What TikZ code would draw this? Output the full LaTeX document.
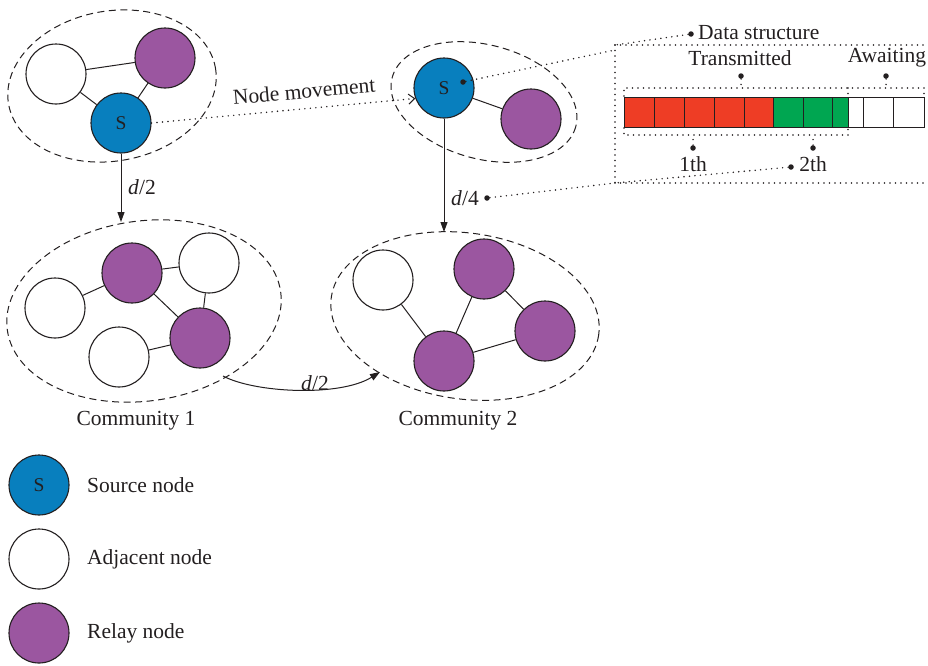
\documentclass[tikz,border=0pt]{standalone}
\usepackage{fontspec}
\setmainfont{Liberation Serif}
\usetikzlibrary{arrows.meta}
\definecolor{srcblue}{RGB}{8,127,190}
\definecolor{relay}{RGB}{155,86,160}
\definecolor{cellred}{RGB}{238,61,37}
\definecolor{cellgreen}{RGB}{0,166,81}
\definecolor{ink}{RGB}{35,31,32}

\begin{document}
\begin{tikzpicture}[x=1pt,y=-1pt,
  font=\fontsize{21.5}{25}\selectfont, text=ink,
  peer/.style={circle, draw=ink, line width=1.1pt, minimum size=60pt, inner sep=0pt},
  src/.style={peer, fill=srcblue, font=\fontsize{19.5}{22}\selectfont},
  adj/.style={peer, fill=white},
  rly/.style={peer, fill=relay},
  link/.style={draw=ink, line width=1pt},
  group/.style={draw=ink, line width=1pt, dash pattern=on 7pt off 4.5pt},
  dots/.style={draw=ink, line width=1.6pt, line cap=round, dash pattern=on 0pt off 5.5pt},
  flow/.style={draw=ink, line width=1pt, -{Triangle[length=10pt,width=7pt]}},
  pin/.style={circle, fill=ink, inner sep=0pt, minimum size=5.5pt},
  lbl/.style={inner sep=1pt}
]
\useasboundingbox (0,0) rectangle (928,665);

% ---- community outlines
\draw[group] (112,86) ellipse [x radius=105, y radius=75, rotate=10];
\draw[group] (484,102) ellipse [x radius=95, y radius=57, rotate=-15];
\draw[group] (144,311) ellipse [x radius=138, y radius=90, rotate=8];
\draw[group] (465,316) ellipse [x radius=135, y radius=83, rotate=-8];

% ---- nodes before the move
\node[adj] (a1) at (56,74) {};
\node[rly] (r1) at (165,58) {};
\node[src] (s1) at (121,123) {S};
\draw[link] (a1) -- (r1);
\draw[link] (a1) -- (s1);
\draw[link] (r1) -- (s1);

% ---- nodes after the move
\node[src] (s2) at (444,88) {S};
\node[rly] (r2) at (531,119) {};
\draw[link] (s2) -- (r2);

% ---- community 1
\node[rly] (r3) at (132,273) {};
\node[adj] (a3) at (209,263) {};
\node[adj] (a4) at (55,308) {};
\node[rly] (r4) at (200,338) {};
\node[adj] (a5) at (119,357) {};
\draw[link] (a4) -- (r3);
\draw[link] (r3) -- (a3);
\draw[link] (r3) -- (r4);
\draw[link] (a3) -- (r4);
\draw[link] (a5) -- (r4);
\node[lbl] (t1) at (136,421) {Community 1};

% ---- community 2
\node[adj] (a6) at (383,280) {};
\node[rly] (r5) at (484,269) {};
\node[rly] (r6) at (545,331) {};
\node[rly] (r7) at (444,361) {};
\draw[link] (a6) -- (r7);
\draw[link] (r7) -- (r5);
\draw[link] (r5) -- (r6);
\draw[link] (r7) -- (r6);
\node[lbl] (t2) at (458,421) {Community 2};

% ---- movement and hops
\coordinate (c1top) at (121,222);
\coordinate (c2top) at (444,232);
\coordinate (c1out) at (223,376);
\coordinate (c2in) at (380,372);
\draw[flow] (s1) -- (c1top);
\node[lbl] (h1) at (142,187) {\textit{d}/2};
\draw[flow] (s2) -- (c2top);
\node[lbl] (h2) at (465,198) {\textit{d}/4};
\draw[flow] (c1out) .. controls (255,393) and (340,397) .. (c2in);
\node[lbl] (h3) at (315,383) {\textit{d}/2};

\draw[dots, -{Straight Barb[length=6pt,width=10pt,line width=1pt]}] (s1.east) -- (s2.200);
\node[lbl, rotate=5] (mv) at (304,91) {Node movement};

% ---- data structure callout
\coordinate (btl) at (615,45);
\coordinate (bbl) at (615,183);
\coordinate (btr) at (928,45);
\coordinate (bbr) at (928,183);
\coordinate (bin) at (615,50);
\draw[dots] (btl) -- (btr);
\draw[dots] (btl) -- (bbl);
\draw[dots] (bbl) -- (bbr);

\node[pin] (ps) at (463,82) {};
\draw[dots] (ps) -- (bin);
\node[pin] (pd) at (487,198) {};
\draw[dots] (pd) -- (bbl);
\node[pin] (pds) at (691,34) {};
\draw[dots] (pds) -- (btl);
\node[lbl, anchor=west] (tds) at (697,33) {Data structure};

% buffer cells
\foreach \xa/\xb in {624/654,654/684,684/714,714/744,744/773}
  \draw[draw=ink, line width=1pt, fill=cellred] (\xa,97) rectangle (\xb,127);
\foreach \xa/\xb in {773/803,803/832,832/848}
  \draw[draw=ink, line width=1pt, fill=cellgreen] (\xa,97) rectangle (\xb,127);
\foreach \xa/\xb in {848/863,863/893,893/924}
  \draw[draw=ink, line width=1pt, fill=white] (\xa,97) rectangle (\xb,127);

% brackets above the buffer
\draw[dots] (624,96) -- (624,88) -- (924,88) -- (924,96);
\draw[dots] (848,88) -- (848,96);
\node[pin] (ptr) at (741,76) {};
\draw[dots] (ptr) -- (741,88);
\node[pin] (paw) at (886,76) {};
\draw[dots] (paw) -- (886,88);
\node[lbl] (ttr) at (740,58) {Transmitted};
\node[lbl] (taw) at (887,58) {Awaiting};

% brackets below the buffer
\draw[dots] (624,128) -- (624,135) -- (848,135) -- (848,128);
\node[pin] (p1) at (693,148) {};
\draw[dots] (p1) -- (693,135);
\node[pin] (p2) at (813,148) {};
\draw[dots] (p2) -- (813,135);
\node[lbl] (t1th) at (693,164) {1th};
\node[lbl] (t2th) at (813,164) {2th};
\node[pin] (p2b) at (791,167) {};
\draw[dots] (p2b) -- (bbl);

% ---- legend
\node[src] (l1) at (39,485) {S};
\node[adj] (l2) at (39,559) {};
\node[rly] (l3) at (39,633) {};
\node[lbl, anchor=west] (lt1) at (86,485) {Source node};
\node[lbl, anchor=west] (lt2) at (86,559) {Adjacent node};
\node[lbl, anchor=west] (lt3) at (86,633) {Relay node};
\end{tikzpicture}
\end{document}
